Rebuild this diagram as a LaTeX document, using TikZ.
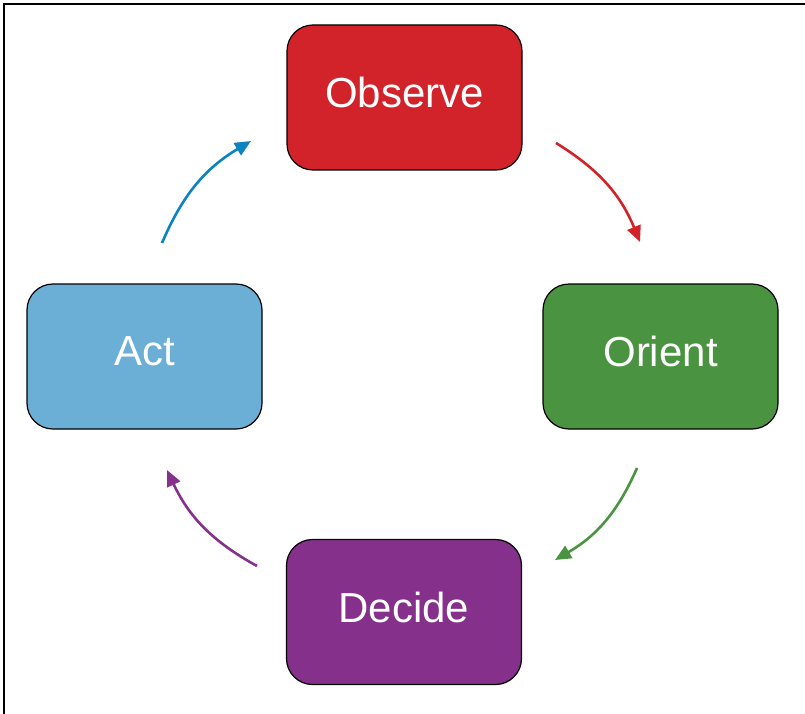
\documentclass[tikz,border=0pt]{standalone}
\usepackage{fontspec}
\setmainfont{Liberation Sans}
\usetikzlibrary{arrows.meta}
\definecolor{obsred}{HTML}{D2232A}
\definecolor{origreen}{HTML}{4A9340}
\definecolor{actblue}{HTML}{6BAED6}
\definecolor{actarrow}{HTML}{0A83C0}
\definecolor{decpurple}{HTML}{85308B}
\tikzset{
  x=1pt, y=-1pt,
  phase/.style={draw=black, line width=1.2pt, rounded corners=26pt,
    minimum width=235pt, minimum height=145pt, inner sep=0pt,
    text depth=10pt,
    text=white, font=\fontsize{42}{50}\selectfont},
  loop/.style={line width=2.6pt, -{Triangle[length=16pt, width=14pt]}, bend left=18},
}
\begin{document}
\begin{tikzpicture}
\useasboundingbox (0,0) rectangle (805,714);
% frame
\draw[line width=2pt] (4,714) -- (4,4) -- (805,4);
% phases
\node[phase, fill=obsred]    (obs) at (404.5,97.5)  {Observe};
\node[phase, fill=origreen]  (ori) at (660.5,356.5) {Orient};
\node[phase, fill=decpurple] (dec) at (404,612)     {Decide};
\node[phase, fill=actblue]   (act) at (144.5,356.5) {Act};
% arrow end points
\coordinate (obsOut) at (556,143);
\coordinate (oriIn)  at (640,242);
\coordinate (oriOut) at (637,468);
\coordinate (decIn)  at (555,560);
\coordinate (decOut) at (257,566);
\coordinate (actIn)  at (167,470);
\coordinate (actOut) at (162,243);
\coordinate (obsIn)  at (251,141);
% cycle arrows
\draw[loop, obsred]    (obsOut) to (oriIn);
\draw[loop, origreen]  (oriOut) to (decIn);
\draw[loop, decpurple] (decOut) to (actIn);
\draw[loop, actarrow]  (actOut) to (obsIn);
\end{tikzpicture}
\end{document}
